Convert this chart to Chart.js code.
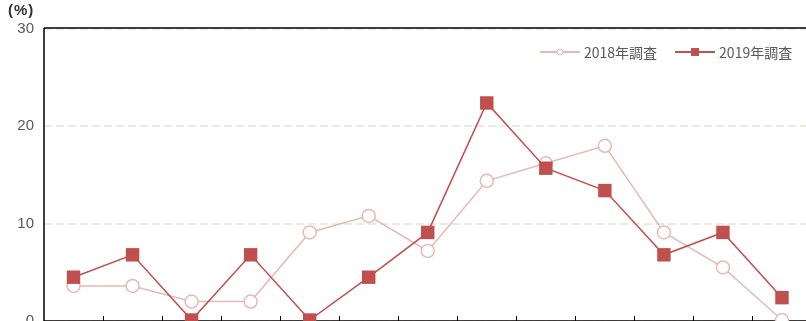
<!DOCTYPE html>
<html>
<head>
<meta charset="utf-8">
<script src="https://cdn.jsdelivr.net/npm/chart.js@4/dist/chart.umd.min.js"></script>
<style>
    html, body { margin: 0; padding: 0; background: #fff; overflow: hidden; width: 806px; height: 321px; }
    #wrap { position: relative; width: 830px; height: 340px; }
    #unit { position: absolute; left: 8px; top: 1px; font: bold 15px "Liberation Sans", sans-serif; letter-spacing: 1px; color: #333; }
    #legend { position: absolute; top: 42px; left: 540px; display: flex; white-space: nowrap; font: 14px "Noto Sans CJK JP", sans-serif; color: #595959; }
    .item { display: flex; align-items: center; margin-right: 18px; }
    .sample { position: relative; width: 40px; height: 20px; margin-right: 4px; }
    .sample .ln { position: absolute; left: 0; right: 0; top: 9px; height: 2px; }
    .sample .mk { position: absolute; left: 50%; top: 50%; transform: translate(-50%, -50%); }
</style>
</head>
<body>
<div id="wrap">
    <canvas id="graph" width="821" height="340"></canvas>
    <div id="unit">(%)</div>
    <div id="legend"></div>
</div>
<script>
// Chart data
const categories = ["1", "2", "3", "4", "5", "6", "7", "8", "9", "10", "11", "12", "13"];
const survey2018 = [3.6, 3.6, 2.0, 2.0, 9.1, 10.8, 7.2, 14.4, 16.2, 18.0, 9.1, 5.5, 0.1];
const survey2019 = [4.5, 6.8, 0.1, 6.8, 0.1, 4.5, 9.1, 22.4, 15.7, 13.4, 6.8, 9.1, 2.4];
const seriesNames = ["2018年調査", "2019年調査"];
const yTicks = [0, 10, 20, 30];

const light = "#e6b9b8", dark = "#c0504d";

// Frame round the plot plus small inward ticks on the x axis
const frame = {
    id: "frame",
    beforeDatasetsDraw(chart) {
        const { ctx, chartArea: a, scales: { x } } = chart;
        ctx.save();
        ctx.strokeStyle = "#000";
        ctx.lineWidth = 1.5;
        ctx.beginPath();
        ctx.moveTo(a.left, a.top - 1);
        ctx.lineTo(a.right, a.top - 1);
        ctx.moveTo(a.left, a.top - 1);
        ctx.lineTo(a.left, a.bottom);
        ctx.lineTo(a.right, a.bottom);
        ctx.stroke();
        ctx.lineWidth = 1;
        ctx.beginPath();
        for (let i = 1; i < categories.length; i++) {
            const px = Math.round((x.getPixelForValue(i - 1) + x.getPixelForValue(i)) / 2) + 0.5;
            ctx.moveTo(px, a.bottom - 5);
            ctx.lineTo(px, a.bottom);
        }
        ctx.stroke();
        ctx.restore();
    }
};

new Chart(document.getElementById("graph"), {
    type: "line",
    data: {
        labels: categories,
        datasets: [
            {
                label: seriesNames[1],
                data: survey2019,
                borderColor: dark,
                borderWidth: 1.5,
                pointStyle: "rect",
                pointRadius: 9.5,
                pointBackgroundColor: dark,
                pointBorderColor: dark,
                pointBorderWidth: 0,
                lineTension: 0,
                clip: false,
                order: 0
            },
            {
                label: seriesNames[0],
                data: survey2018,
                borderColor: light,
                borderWidth: 1.5,
                pointStyle: "circle",
                pointRadius: 6.5,
                pointBackgroundColor: "#fff",
                pointBorderColor: light,
                pointBorderWidth: 1.5,
                lineTension: 0,
                clip: false,
                order: 1
            }
        ]
    },
    options: {
        responsive: false,
        animation: false,
        layout: { padding: { top: 29, left: 0, right: 0, bottom: 0 } },
        plugins: { legend: { display: false }, tooltip: { enabled: false } },
        scales: {
            x: {
                offset: true,
                grid: { display: false },
                border: { display: false },
                ticks: { display: false },
                afterFit: s => { s.height = 18.5; }
            },
            y: {
                min: 0,
                max: 30,
                afterBuildTicks: s => { s.ticks = yTicks.map(v => ({ value: v })); },
                grid: { color: "#ede9df", lineWidth: 2, drawTicks: false },
                border: { display: false, dash: [8, 4] },
                ticks: { padding: 10, color: "#595959", font: { family: "Liberation Sans", size: 15 } },
                afterFit: s => { s.width = 44; }
            }
        }
    },
    plugins: [frame]
});

// Legend built from the series
const legend = document.getElementById("legend");
[[seriesNames[0], light, "circle"], [seriesNames[1], dark, "rect"]].forEach(([name, color, kind]) => {
    const item = document.createElement("div");
    item.className = "item";
    const mk = kind === "circle"
        ? `<div class="mk" style="width:5px;height:5px;border:1.5px solid ${color};border-radius:50%;background:#fff"></div>`
        : `<div class="mk" style="width:8px;height:8px;background:${color}"></div>`;
    item.innerHTML = `<div class="sample"><div class="ln" style="background:${color}"></div>${mk}</div><span>${name}</span>`;
    legend.appendChild(item);
});
</script>
</body>
</html>
